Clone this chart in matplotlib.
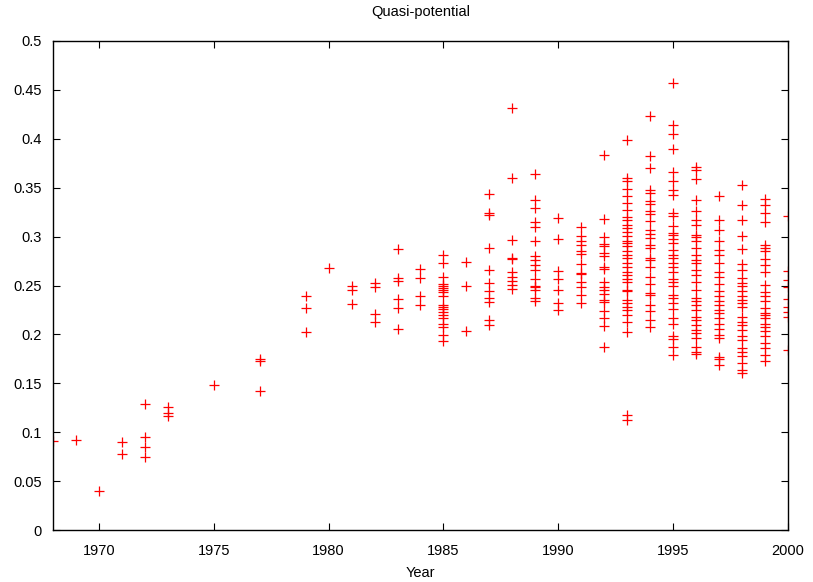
import numpy as np
import matplotlib
matplotlib.use("Agg")
import matplotlib.pyplot as plt
from matplotlib.ticker import FuncFormatter

plt.rcParams['font.family'] = ['Liberation Sans', 'DejaVu Sans']

# Quasi-potential values, one list per year
qp = {
    1968: [0.091],
    1969: [0.092],
    1970: [0.040],
    1971: [0.090, 0.078],
    1972: [0.129, 0.095, 0.085, 0.075],
    1973: [0.126, 0.120, 0.117],
    1975: [0.148],
    1977: [0.175, 0.173, 0.142],
    1979: [0.239, 0.227, 0.202],
    1980: [0.268],
    1981: [0.250, 0.245, 0.231],
    1982: [0.253, 0.248, 0.221, 0.213],
    1983: [0.287, 0.258, 0.255, 0.236, 0.227, 0.206],
    1984: [0.267, 0.258, 0.239, 0.230],
    1985: [0.281, 0.273, 0.259, 0.252, 0.249, 0.247, 0.245, 0.243, 0.239,
           0.230, 0.228, 0.226, 0.223, 0.220, 0.217, 0.211, 0.208, 0.199, 0.193],
    1986: [0.274, 0.250, 0.203],
    1987: [0.344, 0.324, 0.322, 0.288, 0.266, 0.253, 0.244, 0.237, 0.233,
           0.215, 0.210],
    1988: [0.431, 0.360, 0.297, 0.278, 0.277, 0.264, 0.259, 0.255, 0.251, 0.246],
    1989: [0.364, 0.337, 0.329, 0.315, 0.310, 0.296, 0.280, 0.276, 0.271,
           0.266, 0.257, 0.250, 0.248, 0.245, 0.237, 0.234],
    1990: [0.319, 0.298, 0.265, 0.257, 0.245, 0.232, 0.225],
    1991: [0.310, 0.301, 0.296, 0.291, 0.285, 0.282, 0.272, 0.263, 0.262,
           0.254, 0.248, 0.240, 0.232],
    1992: [0.383, 0.318, 0.300, 0.292, 0.290, 0.283, 0.280, 0.269, 0.267,
           0.254, 0.248, 0.245, 0.241, 0.235, 0.233, 0.224, 0.217, 0.209, 0.187],
    1993: [0.399, 0.360, 0.357, 0.349, 0.342, 0.334, 0.327, 0.320, 0.317,
           0.312, 0.309, 0.305, 0.301, 0.296, 0.293, 0.290, 0.285, 0.281,
           0.278, 0.273, 0.269, 0.264, 0.261, 0.257, 0.254, 0.245, 0.244,
           0.235, 0.232, 0.228, 0.225, 0.220, 0.213, 0.202, 0.118, 0.112],
    1994: [0.423, 0.382, 0.370, 0.348, 0.345, 0.336, 0.333, 0.326, 0.323,
           0.316, 0.307, 0.303, 0.299, 0.291, 0.288, 0.278, 0.276, 0.269,
           0.259, 0.252, 0.242, 0.240, 0.230, 0.224, 0.215, 0.208],
    1995: [0.457, 0.414, 0.405, 0.390, 0.366, 0.357, 0.348, 0.343, 0.324,
           0.321, 0.311, 0.304, 0.302, 0.298, 0.293, 0.286, 0.281, 0.278,
           0.273, 0.269, 0.264, 0.257, 0.254, 0.249, 0.240, 0.237, 0.232,
           0.226, 0.217, 0.211, 0.198, 0.195, 0.187, 0.179],
    1996: [0.371, 0.368, 0.359, 0.337, 0.326, 0.317, 0.312, 0.302, 0.300,
           0.295, 0.288, 0.281, 0.276, 0.273, 0.266, 0.261, 0.254, 0.245,
           0.237, 0.234, 0.230, 0.225, 0.218, 0.215, 0.210, 0.205, 0.201,
           0.196, 0.187, 0.182, 0.180],
    1997: [0.342, 0.317, 0.307, 0.296, 0.286, 0.281, 0.273, 0.264, 0.259,
           0.252, 0.244, 0.239, 0.234, 0.230, 0.225, 0.222, 0.217, 0.211,
           0.206, 0.199, 0.196, 0.177, 0.175, 0.169],
    1998: [0.353, 0.332, 0.317, 0.301, 0.287, 0.272, 0.266, 0.258, 0.253,
           0.249, 0.244, 0.239, 0.235, 0.232, 0.228, 0.218, 0.213, 0.210,
           0.205, 0.198, 0.194, 0.186, 0.182, 0.178, 0.171, 0.164, 0.161],
    1999: [0.338, 0.332, 0.324, 0.315, 0.291, 0.288, 0.285, 0.277, 0.271,
           0.264, 0.251, 0.243, 0.239, 0.234, 0.227, 0.222, 0.220, 0.217,
           0.211, 0.208, 0.203, 0.198, 0.191, 0.186, 0.179, 0.173],
    2000: [0.321, 0.265, 0.256, 0.248, 0.236, 0.228, 0.223, 0.218, 0.184],
}

years = np.concatenate([[yr] * len(v) for yr, v in qp.items()])
values = np.concatenate([v for v in qp.values()])

fig = plt.figure(figsize=(8.13, 5.82), dpi=100)
ax = fig.add_axes([0.0652, 0.0893, 0.904, 0.8403])

ax.plot(years, values, linestyle='none', marker='+', markersize=7,
        markeredgewidth=0.9, color='red')

ax.set_xlim(1968, 2000)
ax.set_ylim(0, 0.5)
ax.set_xticks(np.arange(1970, 2001, 5))
ax.set_yticks(np.arange(0, 0.501, 0.05))
ax.yaxis.set_major_formatter(FuncFormatter(lambda v, p: '%g' % round(v, 2)))

ax.tick_params(direction='in', top=True, right=True, length=5, width=0.8,
               labelsize=10.5)
ax.tick_params(axis='x', pad=10)
ax.tick_params(axis='y', pad=8)
for s in ax.spines.values():
    s.set_linewidth(1.0)

ax.set_title('Quasi-potential', fontsize=10.5, pad=18)
ax.set_xlabel('Year', fontsize=10.5, labelpad=6)

fig.savefig('out.png', dpi=100)
